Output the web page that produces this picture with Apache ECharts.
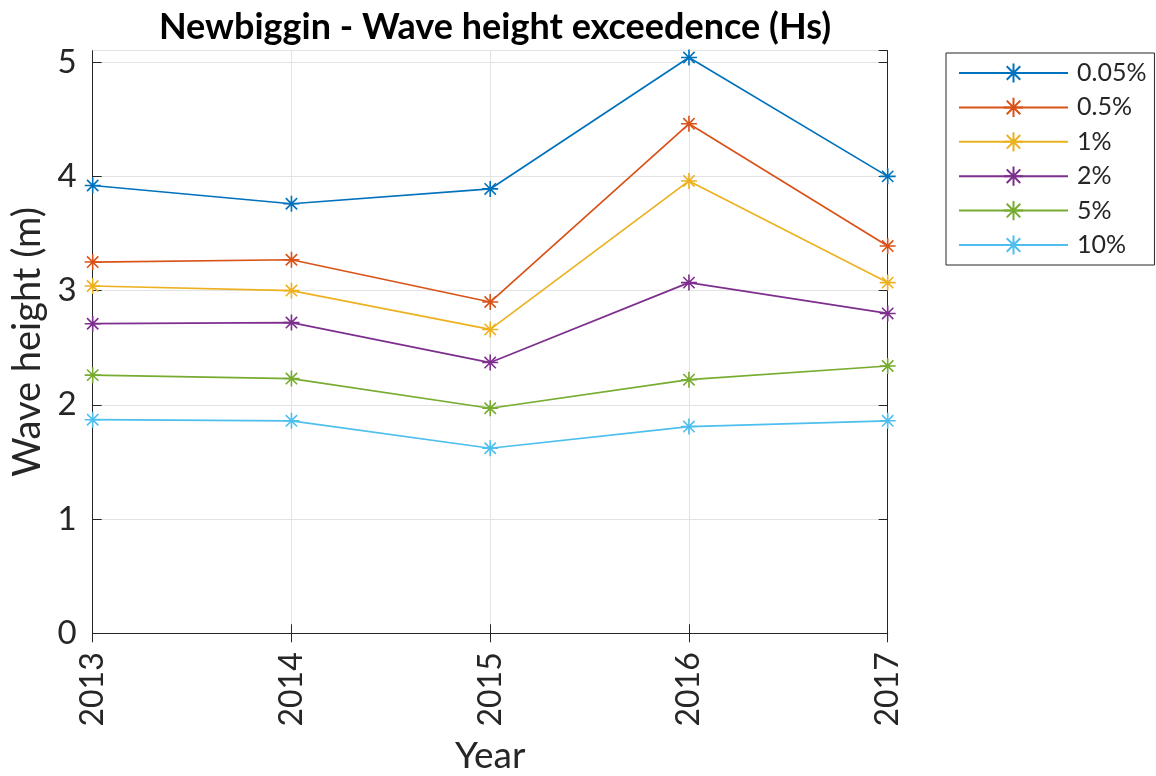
<!DOCTYPE html>
<html>
<head>
<meta charset="utf-8">
<script src="https://cdn.jsdelivr.net/npm/echarts@6/dist/echarts.min.js"></script>
<style>
html,body{margin:0;padding:0;background:#fff;}
#chart{width:1156px;height:776px;}
</style>
</head>
<body>
<div id="chart"></div>
<script>
var years = ['2013', '2014', '2015', '2016', '2017'];
var seriesNames = ['0.05%', '0.5%', '1%', '2%', '5%', '10%'];
var s005 = [3.92, 3.76, 3.89, 5.04, 4.00];
var s05  = [3.25, 3.27, 2.90, 4.46, 3.39];
var s1   = [3.04, 3.00, 2.66, 3.96, 3.07];
var s2   = [2.71, 2.72, 2.37, 3.07, 2.80];
var s5   = [2.26, 2.23, 1.97, 2.22, 2.34];
var s10  = [1.87, 1.86, 1.62, 1.81, 1.86];
var yTicks = [0, 1, 2, 3, 4, 5];

var allValues = [s005, s05, s1, s2, s5, s10];
var colors = ['#0072BD', '#D95319', '#EDB120', '#7E2F8E', '#77AC30', '#4DBEEE'];
var FONT = 'Lato';
var AX = '#262626';
var star = 'path://M0,-1L0,1M-1,0L1,0M-0.7071,-0.7071L0.7071,0.7071M-0.7071,0.7071L0.7071,-0.7071';

var chart = echarts.init(document.getElementById('chart'), null, {renderer: 'canvas'});

var series = seriesNames.map(function (name, i) {
  return {
    name: name,
    type: 'line',
    data: allValues[i],
    xAxisIndex: 0,
    yAxisIndex: 0,
    symbol: star,
    symbolSize: 16,
    showAllSymbol: true,
    lineStyle: {color: colors[i], width: 1.7},
    itemStyle: {color: 'rgba(0,0,0,0)', borderColor: colors[i], borderWidth: 1.6},
    emphasis: {disabled: true},
    animation: false
  };
});

chart.setOption({
  animation: false,
  backgroundColor: '#fff',
  title: {
    text: 'Newbiggin - Wave height exceedence (Hs)',
    left: 490,
    top: 4,
    textAlign: 'center',
    textStyle: {fontFamily: FONT, fontWeight: 'bold', fontSize: 36, color: '#000'}
  },
  grid: {left: 92.7, top: 50.7, right: 268.3, bottom: 142.7, containLabel: false, outerBoundsMode: 'none'},
  legend: {
    orient: 'vertical',
    left: 946,
    top: 53,
    padding: [5, 8, 5, 12],
    itemWidth: 109,
    itemHeight: 24,
    itemGap: 4.4,
    borderColor: AX,
    borderWidth: 1,
    backgroundColor: '#fff',
    textStyle: {fontFamily: FONT, fontSize: 25, color: AX, lineHeight: 30, padding: [0, 0, 0, 4]},
    data: seriesNames
  },
  xAxis: [{
    type: 'category',
    data: years,
    boundaryGap: false,
    name: 'Year',
    nameLocation: 'middle',
    nameGap: 104,
    nameTextStyle: {fontFamily: FONT, fontSize: 37, color: AX},
    axisLine: {show: true, lineStyle: {color: AX, width: 1}},
    axisTick: {show: true, inside: true, length: 9, alignWithLabel: true, lineStyle: {color: AX}},
    axisLabel: {rotate: 90, margin: 19, fontFamily: FONT, fontSize: 32, color: AX},
    splitLine: {show: true, lineStyle: {color: '#e3e3e3', width: 1}}
  }, {
    type: 'category',
    data: years,
    boundaryGap: false,
    position: 'top',
    axisLine: {show: true, lineStyle: {color: AX, width: 1}},
    axisTick: {show: true, inside: true, length: 9, lineStyle: {color: AX}},
    axisLabel: {show: false},
    splitLine: {show: false}
  }],
  yAxis: [{
    type: 'value',
    min: 0,
    max: 5.1,
    interval: 1,
    name: 'Wave height (m)',
    nameLocation: 'middle',
    nameGap: 46,
    nameTextStyle: {fontFamily: FONT, fontSize: 38, color: AX},
    axisLine: {show: true, lineStyle: {color: AX, width: 1}},
    axisTick: {show: true, inside: true, length: 9, lineStyle: {color: AX}},
    axisLabel: {
      margin: 16, fontFamily: FONT, fontSize: 33, color: AX, showMaxLabel: false,
      formatter: function (v) { return yTicks.indexOf(v) >= 0 ? String(v) : ''; }
    },
    splitLine: {show: true, lineStyle: {color: '#e3e3e3', width: 1}}
  }, {
    type: 'value',
    min: 0,
    max: 5.1,
    interval: 1,
    position: 'right',
    axisLine: {show: true, lineStyle: {color: AX, width: 1}},
    axisTick: {show: true, inside: true, length: 9, lineStyle: {color: AX}},
    axisLabel: {show: false},
    splitLine: {show: false}
  }],
  series: series
});
</script>
</body>
</html>
